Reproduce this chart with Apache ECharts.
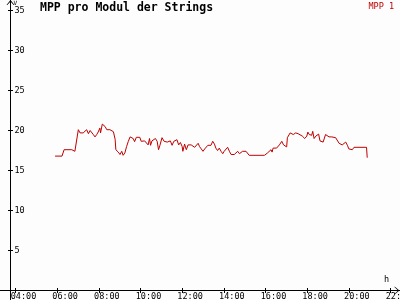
<!DOCTYPE html>
<html>
<head>
<meta charset="utf-8">
<script src="https://cdn.jsdelivr.net/npm/echarts@6/dist/echarts.min.js"></script>
<style>
html,body{margin:0;padding:0;background:#fdfdfd;}
#chart{width:400px;height:300px;}
</style>
</head>
<body>
<div id="chart"></div>
<script>
// time of day in minutes after midnight
const minutes = [
  354,374,380,402,407,411,421,426,431,435,
  440,445,450,455,460,464,469,474,478,483,
  485,490,495,498,503,507,512,517,522,527,
  529,536,541,546,550,555,560,565,570,574,
  579,583,588,593,598,602,607,612,617,622,
  626,629,633,638,643,648,652,656,662,668,
  673,677,681,686,691,696,700,705,710,715,
  720,722,727,732,737,742,746,751,756,761,
  766,770,775,780,785,790,794,798,803,808,
  813,817,822,827,832,837,841,846,851,856,
  861,866,870,875,880,885,889,894,899,904,
  909,913,947,950,957,961,966,971,976,979,
  982,987,992,996,1000,1005,1007,1012,1017,1021,
  1023,1025,1031,1034,1040,1047,1054,1059,1066,1073,
  1079,1082,1086,1090,1093,1096,1100,1105,1109,1113,
  1117,1122,1126,1130,1133,1138,1143,1151,1162,1167,
  1172,1177,1181,1186,1191,1196,1200,1205,1210,1215,
  1251,1253
];
// MPP 1 voltage (V)
const mpp1 = [
  16.8,16.8,17.6,17.6,17.4,17.4,20.1,19.7,19.8,19.7,
  19.75,20.1,19.6,20.0,20.0,19.5,19.2,19.5,19.8,20.3,
  19.7,20.8,20.6,20.5,20.1,20.15,20.1,19.9,19.85,18.9,
  17.6,17.3,17.0,17.4,16.9,17.2,18.0,18.65,19.2,19.1,
  19.0,18.6,19.15,19.2,19.15,18.65,18.4,18.7,18.55,18.2,
  19.0,18.15,18.7,18.45,19.0,18.65,17.6,18.15,19.1,18.65,
  18.85,18.55,18.4,18.7,18.15,18.65,18.45,18.85,18.2,18.5,
  18.0,17.4,18.3,17.6,18.2,17.95,18.2,17.95,17.9,18.0,
  18.4,18.0,17.7,17.4,17.7,17.9,18.15,18.2,18.15,18.65,
  18.3,17.8,17.5,17.8,17.4,17.1,17.4,17.4,17.9,17.4,
  17.0,17.0,17.0,17.2,17.4,17.1,17.0,17.4,17.5,17.4,
  17.3,16.9,16.9,16.8,16.9,16.9,17.2,17.4,17.6,17.3,
  17.8,17.6,17.8,18.0,18.2,18.4,18.65,18.2,17.95,17.95,
  19.1,19.3,19.7,19.8,19.5,19.7,19.6,19.4,19.3,19.0,
  19.3,19.8,19.5,19.7,19.4,19.9,19.0,19.3,19.2,19.55,
  18.7,18.8,18.55,18.4,19.5,19.3,19.2,19.2,19.1,19.0,
  18.4,18.15,18.2,18.3,18.55,18.15,17.7,17.5,17.6,17.9,
  17.9,16.6
];
const xTickHours = [4,6,8,10,12,14,16,18,20,22];
const yTicks = [5,10,15,20,25,30,35];
const titleText = 'MPP pro Modul der Strings';
const seriesName = 'MPP 1';
const xUnit = 'h';
const yUnit = 'V';

const mono = 'DejaVu Sans Mono';
const red = '#c00000';
const xTickVals = xTickHours.map(h => h * 60);
const fmtTime = v => String(Math.round(v / 60)).padStart(2, '0') + ':00';
const arrow = 'path://M0,6L5,0L10,6L9,6L5,1.6L1,6Z';

const xMin = 195.4, xMax = 1347.4;
const yMin = -1.1875, yMax = 36.3125;

function xAx(primary) {
  return {
    type: 'value', min: xMin, max: xMax, position: 'bottom', offset: -9.5,
    splitLine: {show: false},
    axisLine: primary ? {show: true, onZero: false, symbol: ['none', arrow], symbolSize: [8, 5], symbolOffset: [0, -3], lineStyle: {color: '#000', width: 1}} : {show: false, onZero: false},
    axisTick: {show: true, inside: !primary, length: 2.5, customValues: xTickVals, lineStyle: {color: '#000'}},
    axisLabel: primary ? {show: true, customValues: xTickVals, formatter: fmtTime, margin: 2, color: '#000', fontFamily: mono, fontSize: 8.5, align: 'center', padding: [0, 0, 0, 16], hideOverlap: false} : {show: false},
    name: primary ? xUnit : '', nameLocation: 'end', nameGap: -11,
    nameTextStyle: {fontFamily: mono, fontSize: 8.5, color: '#000', align: 'right', verticalAlign: 'bottom', padding: [0, 0, 6, 0]}
  };
}
function yAx(primary) {
  return {
    type: 'value', min: yMin, max: yMax, position: 'left', offset: -10.5,
    splitLine: {show: false},
    axisLine: primary ? {show: true, onZero: false, symbol: ['none', arrow], symbolSize: [8, 5], symbolOffset: [0, -2.5], lineStyle: {color: '#000', width: 1}} : {show: false, onZero: false},
    axisTick: {show: true, inside: !primary, length: 2.5, customValues: yTicks, lineStyle: {color: '#000'}},
    axisLabel: primary ? {show: true, inside: true, customValues: yTicks, margin: 4, color: '#000', fontFamily: mono, fontSize: 8.5} : {show: false},
    name: primary ? yUnit : '', nameLocation: 'end', nameGap: -1,
    nameTextStyle: {fontFamily: mono, fontSize: 6, color: '#000', align: 'left', verticalAlign: 'top', padding: [0, 0, 0, 3]}
  };
}

const chart = echarts.init(document.getElementById('chart'), null, {renderer: 'canvas'});
chart.setOption({
  animation: false,
  backgroundColor: '#fdfdfd',
  title: {text: titleText, left: 40, top: 2, padding: 0,
    textStyle: {fontFamily: mono, fontWeight: 'bold', fontSize: 11.5, color: '#000'}},
  legend: {right: 6, top: 0, padding: 0, icon: 'none', itemWidth: 0, itemGap: 0,
    data: [seriesName],
    textStyle: {fontFamily: mono, fontSize: 8.5, color: red, padding: 0}},
  grid: {left: 0, right: 0, top: 0, bottom: 0, containLabel: false, outerBoundsMode: 'none'},
  xAxis: [xAx(true), xAx(false)],
  yAxis: [yAx(true), yAx(false)],
  series: [{
    name: seriesName, type: 'line', xAxisIndex: 0, yAxisIndex: 0,
    data: minutes.map((m, i) => [m, mpp1[i]]),
    showSymbol: false, symbol: 'none', clip: false,
    lineStyle: {color: red, width: 1}, itemStyle: {color: red}
  }]
});
</script>
</body>
</html>
